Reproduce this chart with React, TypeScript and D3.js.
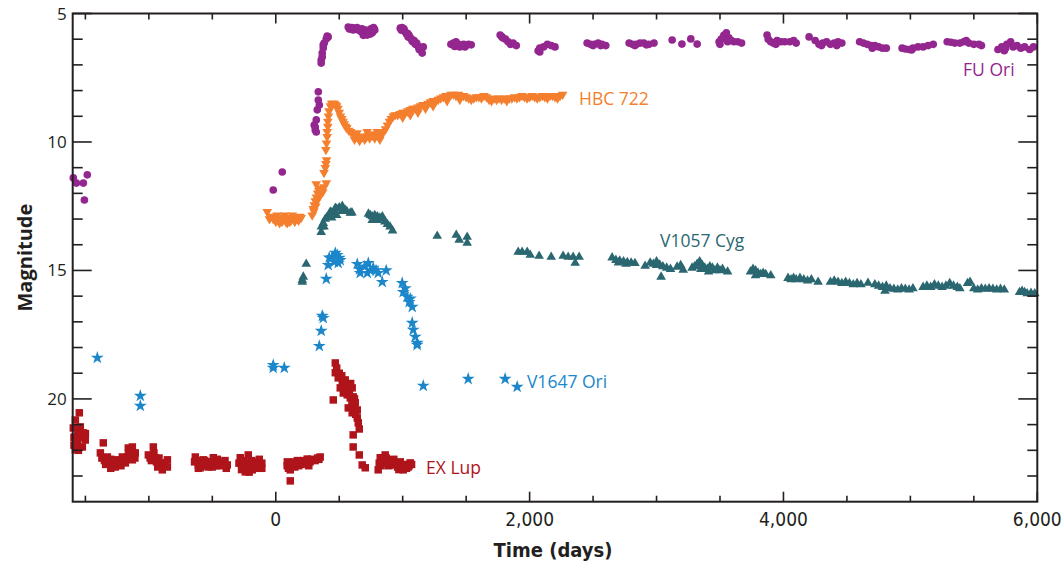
import React from "react";
import * as d3 from "d3";

// ---------- DATA: [time (days), magnitude] ----------
const fuOri: [number, number][] = [
  [-1595, 11.4], [-1571, 11.6], [-1516, 11.6], [-1485, 11.28], [-1508, 12.26], [-20, 11.87], [51, 11.17],
  [303, 9.34], [311, 9.53], [319, 9.61], [311, 9.42], [319, 9.14], [327, 8.75], [343, 8.56], [335, 8.37], [335, 8.05],
  [358, 6.93], [358, 6.81], [366, 6.69], [366, 6.54], [374, 6.34], [374, 6.22], [382, 6.15], [398, 5.99], [405, 5.88], [413, 5.91],
  [571, 5.53], [580, 5.6], [590, 5.6], [600, 5.55], [610, 5.64], [620, 5.58], [630, 5.6], [640, 5.55], [650, 5.64], [660, 5.62],
  [670, 5.7], [680, 5.6], [690, 5.85], [690, 5.7], [700, 5.76], [710, 5.65], [715, 5.75], [720, 5.84], [735, 5.7], [740, 5.68],
  [745, 5.8], [750, 5.6], [760, 5.75], [765, 5.7], [770, 5.55], [775, 5.6], [780, 5.64],
  [981, 5.57], [990, 5.65], [1000, 5.6], [1010, 5.6], [1020, 5.72], [1030, 5.8], [1043, 5.91], [1050, 5.85], [1060, 5.95],
  [1070, 6.0], [1083, 6.11], [1090, 6.05], [1100, 6.2], [1114, 6.23], [1125, 6.3], [1138, 6.42], [1145, 6.35], [1154, 6.54], [1162, 6.3],
  [995, 5.55], [1015, 5.68], [1040, 5.78], [1075, 6.08], [1110, 6.15], [1130, 6.4],
  [1380, 6.2], [1400, 6.15], [1410, 6.28], [1420, 6.1], [1440, 6.2], [1450, 6.3], [1460, 6.25], [1480, 6.2], [1490, 6.3], [1500, 6.25], [1520, 6.2], [1540, 6.22],
  [1768, 5.84], [1780, 5.9], [1790, 5.95], [1810, 6.0], [1830, 6.1], [1850, 6.2], [1870, 6.15], [1895, 6.25],
  [2067, 6.45], [2080, 6.35], [2080, 6.5], [2110, 6.3], [2140, 6.2], [2170, 6.25], [2200, 6.3],
  [2453, 6.15], [2480, 6.2], [2500, 6.25], [2510, 6.2], [2540, 6.15], [2560, 6.25], [2570, 6.2], [2600, 6.25],
  [2784, 6.15], [2810, 6.2], [2830, 6.25], [2840, 6.2], [2870, 6.15], [2900, 6.15], [2920, 6.22], [2940, 6.2], [2980, 6.15],
  [3123, 6.03], [3200, 6.19], [3270, 5.99], [3320, 6.19],
  [3493, 6.1], [3500, 6.2], [3510, 6.0], [3530, 5.85], [3550, 5.75], [3560, 6.1], [3570, 5.95], [3590, 6.05], [3610, 6.1], [3640, 6.1], [3670, 6.15],
  [3871, 5.84], [3880, 6.0], [3900, 6.1], [3920, 6.15], [3940, 6.2], [3950, 6.05], [3980, 6.1], [4010, 6.1], [4050, 6.1], [4080, 6.05], [4100, 6.15],
  [4202, 5.91], [4250, 6.05], [4280, 6.2], [4300, 6.25], [4310, 6.15], [4340, 6.1], [4370, 6.2], [4400, 6.15], [4420, 6.25], [4430, 6.1], [4460, 6.15],
  [4600, 6.1], [4630, 6.15], [4660, 6.2], [4690, 6.25], [4700, 6.35], [4720, 6.25], [4750, 6.3], [4780, 6.35], [4810, 6.35],
  [4935, 6.35], [4960, 6.38], [4990, 6.4], [5010, 6.42], [5020, 6.35], [5060, 6.3], [5100, 6.3], [5140, 6.25], [5180, 6.2],
  [5290, 6.1], [5320, 6.12], [5350, 6.15], [5390, 6.15], [5420, 6.1], [5440, 6.05], [5460, 6.15], [5500, 6.2], [5540, 6.2], [5560, 6.25],
  [5690, 6.4], [5720, 6.3], [5740, 6.45], [5750, 6.35], [5760, 6.2], [5790, 6.1], [5810, 6.3], [5840, 6.25], [5870, 6.35], [5900, 6.3], [5940, 6.4], [5970, 6.3],
];

const hbc722: [number, number][] = [
  [-67, 12.72], [-50, 13.0], [-40, 12.9], [-20, 13.0], [-10, 12.95], [0, 13.1], [10, 12.85], [20, 13.05], [30, 13.15], [40, 12.95],
  [50, 13.1], [60, 13.0], [70, 12.85], [80, 13.1], [90, 13.15], [100, 12.95], [110, 13.1], [120, 13.05], [130, 12.85], [140, 13.0],
  [150, 13.1], [160, 12.95], [170, 13.0], [180, 13.05], [190, 12.9], [200, 12.95],
  [287, 12.85], [295, 12.6], [300, 12.7], [303, 12.45], [311, 12.3], [315, 12.5], [320, 12.15], [325, 12.3], [330, 12.0], [335, 12.2],
  [340, 11.9], [345, 12.1], [350, 11.85], [355, 12.0], [360, 11.8], [370, 11.95], [380, 11.75], [319, 11.64], [398, 11.6],
  [380, 11.2], [390, 11.0], [395, 10.85], [400, 10.7], [395, 10.3], [400, 10.05], [405, 9.8], [405, 9.6], [410, 9.4], [410, 9.2],
  [415, 9.0], [420, 8.8], [430, 8.6], [440, 8.5], [450, 8.5], [460, 8.5], [470, 8.55], [480, 8.6],
  [490, 8.7], [500, 8.85], [510, 9.0], [520, 9.1], [530, 9.2], [540, 9.3], [550, 9.4], [560, 9.45], [575, 9.55], [590, 9.6],
  [610, 9.7], [620, 9.9], [625, 9.75], [640, 9.8], [640, 9.65], [655, 9.8], [660, 9.95], [670, 9.85], [685, 9.8], [700, 9.78], [700, 9.9],
  [715, 9.8], [720, 9.6], [730, 9.75], [740, 9.85], [745, 9.7], [760, 9.75], [775, 9.72], [780, 9.85], [790, 9.7], [800, 9.6], [805, 9.75],
  [820, 9.8], [820, 9.9], [835, 9.7], [850, 9.6],
  [865, 9.5], [880, 9.35], [895, 9.2], [910, 9.1], [925, 9.0], [940, 8.95],
  [960, 8.95], [980, 8.9], [1000, 8.85], [1020, 8.85], [1040, 8.8], [1060, 8.75], [1080, 8.7], [1100, 8.7], [1120, 8.65], [1140, 8.6],
  [1160, 8.55], [1180, 8.55], [1200, 8.5], [1220, 8.45], [1240, 8.4], [1260, 8.4], [1280, 8.35],
  [1000, 9.05], [1060, 8.95], [1120, 8.85], [1180, 8.7], [1240, 8.6],
  [1300, 8.3], [1320, 8.25], [1340, 8.2], [1360, 8.2], [1380, 8.15], [1400, 8.15], [1420, 8.2], [1440, 8.15], [1460, 8.2], [1480, 8.2],
  [1500, 8.25], [1520, 8.3], [1540, 8.35], [1350, 8.4], [1450, 8.35],
  [1560, 8.3], [1580, 8.25], [1600, 8.25], [1620, 8.3], [1640, 8.2], [1660, 8.25], [1680, 8.35], [1700, 8.4], [1720, 8.3], [1740, 8.35],
  [1760, 8.3], [1780, 8.35], [1800, 8.3], [1820, 8.4],
  [1840, 8.3], [1860, 8.3], [1880, 8.25], [1900, 8.3], [1920, 8.25], [1940, 8.2], [1960, 8.25], [1980, 8.3], [2000, 8.25], [2020, 8.2],
  [2040, 8.25], [2060, 8.3], [2080, 8.25], [2100, 8.2], [2120, 8.25], [2140, 8.3], [2160, 8.2], [2180, 8.2], [2200, 8.25], [2220, 8.3],
  [2240, 8.2], [2260, 8.15],
];

const v1057Cyg: [number, number][] = [
  [209, 15.45], [209, 15.37], [217, 15.25], [240, 14.75],
  [358, 13.51], [360, 13.3], [374, 13.16], [380, 13.3], [390, 13.0], [405, 12.92], [420, 12.85], [429, 12.72], [440, 12.75], [440, 12.95],
  [460, 12.7], [469, 12.57], [480, 12.6], [480, 12.85], [500, 12.55], [520, 12.7], [524, 12.49], [547, 12.65], [560, 12.7], [587, 12.76], [600, 12.75],
  [730, 12.8], [745, 12.85], [760, 12.9], [760, 13.05], [780, 12.85], [800, 12.9], [800, 13.05], [820, 12.95], [840, 13.0], [840, 12.9],
  [860, 13.1], [880, 13.2], [900, 13.3], [920, 13.45],
  [1272, 13.66], [1422, 13.62], [1445, 13.81], [1508, 13.7], [1508, 13.93],
  [1910, 14.28], [1941, 14.28], [1981, 14.28], [2005, 14.4], [2075, 14.44], [2170, 14.48], [2264, 14.44], [2304, 14.48], [2343, 14.48],
  [2359, 14.71], [2390, 14.48],
  [2650, 14.5], [2680, 14.6], [2700, 14.7], [2710, 14.62], [2740, 14.65], [2760, 14.75], [2770, 14.68], [2800, 14.7], [2830, 14.72],
  [2910, 14.83], [2950, 14.7], [2975, 14.75], [3000, 14.8], [3000, 14.65], [3025, 14.78], [3036, 15.25], [3050, 14.85], [3080, 14.9], [3110, 14.95],
  [3162, 14.86], [3190, 14.8], [3210, 14.98],
  [3280, 14.9], [3300, 14.85], [3320, 14.75], [3340, 14.65], [3350, 14.95], [3360, 14.8], [3380, 14.9], [3400, 14.95], [3410, 15.05],
  [3420, 14.85], [3440, 14.9], [3460, 15.0], [3480, 14.9], [3500, 15.0], [3520, 14.95], [3560, 15.05],
  [3740, 15.05], [3760, 14.95], [3780, 15.0], [3780, 15.2], [3800, 15.1], [3820, 15.15], [3840, 15.1], [3860, 15.15], [3900, 15.2],
  [4036, 15.3], [4060, 15.35], [4080, 15.3], [4100, 15.35], [4130, 15.3], [4160, 15.35], [4190, 15.4], [4220, 15.35], [4273, 15.45],
  [4370, 15.45], [4400, 15.4], [4430, 15.45], [4460, 15.5], [4490, 15.45], [4520, 15.5], [4550, 15.55], [4580, 15.5], [4610, 15.55], [4666, 15.49],
  [4720, 15.55], [4750, 15.6], [4780, 15.65], [4800, 15.8], [4810, 15.6], [4840, 15.7], [4870, 15.72], [4900, 15.75], [4930, 15.7],
  [4960, 15.72], [4990, 15.75], [5020, 15.7],
  [5100, 15.65], [5130, 15.6], [5160, 15.65], [5190, 15.55], [5220, 15.6], [5250, 15.65], [5280, 15.6], [5310, 15.5], [5340, 15.6],
  [5370, 15.65], [5390, 15.7],
  [5450, 15.5], [5470, 15.45], [5500, 15.7], [5530, 15.75], [5560, 15.7], [5590, 15.72], [5620, 15.7], [5650, 15.72], [5680, 15.75],
  [5710, 15.72], [5740, 15.75],
  [5860, 15.85], [5880, 15.8], [5900, 15.85], [5920, 15.9], [5950, 15.88], [5980, 15.9],
];

const v1647Ori: [number, number][] = [
  [-1406, 18.4], [-1067, 19.88], [-1067, 20.27], [-20, 18.68], [-20, 18.79], [67, 18.79],
  [343, 17.94], [358, 17.35], [366, 16.77], [374, 16.85], [398, 15.33], [413, 14.79],
  [421, 14.5], [445, 14.48], [461, 14.67], [469, 14.32], [484, 14.4], [492, 14.71], [500, 14.51], [508, 14.6],
  [642, 14.75], [665, 15.1], [721, 15.1], [729, 14.71], [768, 14.9], [807, 15.1], [839, 15.45], [870, 15.0],
  [660, 14.95], [700, 14.85], [745, 15.0], [790, 15.0],
  [996, 15.49], [1004, 15.84], [1020, 15.7], [1035, 16.03], [1051, 16.23], [1060, 16.1], [1075, 16.42],
  [1075, 17.04], [1083, 17.31], [1099, 17.58], [1114, 17.82], [1114, 17.9],
  [1162, 19.49], [1516, 19.22], [1807, 19.22], [1902, 19.53],
];

const exLup: [number, number][] = [
  [-1548, 20.54], [-1579, 20.82], [-1540, 21.09], [-1595, 21.13], [-1516, 21.32], [-1579, 21.48], [-1501, 21.6], [-1563, 21.71],
  [-1579, 21.98], [-1524, 21.87], [-1590, 21.5], [-1560, 21.3], [-1530, 21.5], [-1500, 21.35], [-1555, 22.0], [-1590, 21.8],
  [-1359, 21.71], [-1382, 22.1], [-1370, 22.3], [-1350, 22.4], [-1340, 22.55], [-1327, 22.26], [-1320, 22.5], [-1300, 22.35],
  [-1300, 22.7], [-1288, 22.57], [-1280, 22.45], [-1264, 22.65], [-1260, 22.5], [-1248, 22.37], [-1240, 22.55], [-1230, 22.45],
  [-1220, 22.6], [-1209, 22.26], [-1200, 22.4], [-1185, 22.49], [-1180, 22.3], [-1170, 22.26], [-1162, 21.91], [-1160, 22.1],
  [-1150, 22.2], [-1140, 22.05], [-1130, 21.87], [-1130, 22.37], [-1120, 22.2], [-1110, 22.3], [-1107, 22.1],
  [-1004, 22.18], [-990, 22.3], [-980, 22.4], [-965, 21.87], [-960, 22.1], [-949, 22.29], [-940, 22.45], [-930, 22.65], [-920, 22.3],
  [-910, 22.49], [-900, 22.6], [-894, 22.76], [-880, 22.5], [-870, 22.6], [-854, 22.37], [-854, 22.65],
  [-640, 22.45], [-634, 22.26], [-620, 22.4], [-610, 22.57], [-610, 22.7], [-600, 22.5], [-595, 22.68], [-580, 22.6], [-571, 22.37],
  [-560, 22.4], [-550, 22.5], [-540, 22.45], [-532, 22.65], [-520, 22.5], [-500, 22.45], [-500, 22.65], [-492, 22.29], [-480, 22.4],
  [-470, 22.6], [-460, 22.35], [-453, 22.49], [-440, 22.6], [-420, 22.55], [-414, 22.45], [-400, 22.4], [-390, 22.7], [-382, 22.57],
  [-290, 22.5], [-280, 22.29], [-270, 22.45], [-270, 22.75], [-256, 22.65], [-250, 22.4], [-240, 22.84], [-230, 22.55], [-217, 22.18],
  [-210, 22.7], [-210, 22.85], [-200, 22.5], [-190, 22.4], [-185, 22.76], [-170, 22.5], [-160, 22.7], [-150, 22.6], [-146, 22.45],
  [-130, 22.35], [-122, 22.57], [-110, 22.5], [-110, 22.7],
  [90, 22.6], [91, 22.45], [100, 22.7], [114, 22.76], [114, 23.19], [120, 22.5], [138, 22.57], [140, 22.45], [150, 22.65], [160, 22.5],
  [170, 22.4], [180, 22.6], [193, 22.45], [200, 22.55], [220, 22.4], [230, 22.5], [248, 22.34], [250, 22.5], [260, 22.6], [270, 22.45],
  [280, 22.35], [295, 22.37], [310, 22.4], [330, 22.3], [340, 22.35], [350, 22.26],
  [469, 18.6], [469, 18.98], [480, 18.8], [492, 19.18], [500, 19.0], [508, 19.57], [520, 19.1], [524, 19.38], [532, 19.77], [540, 19.5],
  [547, 19.26], [555, 19.6], [563, 19.84], [571, 19.45], [580, 19.7], [587, 19.96], [590, 19.4], [602, 19.57], [610, 19.92], [620, 20.0],
  [626, 20.15], [571, 20.35], [600, 20.2], [602, 20.54], [620, 20.35], [630, 20.6], [642, 20.43], [642, 20.74], [650, 20.93],
  [453, 20.04], [610, 21.4], [658, 21.17], [610, 21.87], [658, 22.18], [681, 22.57], [705, 22.68],
  [807, 22.76], [815, 22.5], [823, 22.29], [830, 22.6], [840, 22.4], [850, 22.35], [862, 22.18], [870, 22.3], [880, 22.5], [890, 22.6],
  [902, 22.37], [910, 22.55], [920, 22.45], [930, 22.35], [941, 22.57], [950, 22.5], [960, 22.65], [970, 22.75], [981, 22.45],
  [990, 22.6], [1004, 22.76], [1010, 22.55], [1020, 22.6], [1030, 22.7], [1043, 22.65], [1050, 22.6], [1059, 22.49], [1070, 22.55],
];

const xMajorTicks = [0, 2000, 4000, 6000];
const xMinorTicks = [-1500, -1000, -500, 500, 1000, 1500, 2500, 3000, 3500, 4500, 5000, 5500];
const yMajorTicks = [5, 10, 15, 20];
const yMinorTicks = [6, 7, 8, 9, 11, 12, 13, 14, 16, 17, 18, 19, 21, 22, 23];

const seriesLabels = [
  { name: "FU Ori", t: 5415, m: 7.43, color: "#93278F" },
  { name: "HBC 722", t: 2389, m: 8.56, color: "#F47F2E" },
  { name: "V1057 Cyg", t: 3027, m: 14.09, color: "#2A6770" },
  { name: "V1647 Ori", t: 1979, m: 19.58, color: "#1B87CA" },
  { name: "EX Lup", t: 1184, m: 22.93, color: "#B0141B" },
];

// ---------- CHART ----------
const W = 1064;
const H = 561;
const x = d3.scaleLinear().domain([-1600, 6000]).range([72.7, 1037.3]);
const y = d3.scaleLinear().domain([5, 24]).range([13.5, 501.7]);

const AXIS = "#231F20";
const FONT = "'Open Sans', 'Noto Sans', sans-serif";
const COND = "'Liberation Sans Narrow', 'DejaVu Sans Condensed', 'Open Sans', sans-serif";

const circlePath = d3.symbol().type(d3.symbolCircle).size(46)() as string;
const squarePath = d3.symbol().type(d3.symbolSquare).size(56)() as string;
const triPath = d3.symbol().type(d3.symbolTriangle).size(40)() as string;
const starPath = d3.symbol().type(d3.symbolStar).size(52)() as string;

function Marks({ data, path, color, rotate = 0 }: { data: [number, number][]; path: string; color: string; rotate?: number }) {
  return (
    <g fill={color}>
      {data.map(([t, m], i) => (
        <path key={i} d={path} transform={`translate(${x(t)},${y(m)})${rotate ? ` rotate(${rotate})` : ""}`} />
      ))}
    </g>
  );
}

export default function App() {
  const [x0, x1] = x.range();
  const [y0, y1] = y.range();
  return (
    <svg width={W} height={H} style={{ position: "absolute", left: 0, top: 0, background: "#fff" }}>
      <Marks data={fuOri} path={circlePath} color="#93278F" />
      <Marks data={hbc722} path={triPath} color="#F47F2E" rotate={180} />
      <Marks data={v1057Cyg} path={triPath} color="#2A6770" />
      <Marks data={v1647Ori} path={starPath} color="#1B87CA" />
      <Marks data={exLup} path={squarePath} color="#B0141B" />

      {/* frame */}
      <rect x={x0} y={y0} width={x1 - x0} height={y1 - y0} fill="none" stroke={AXIS} strokeWidth={2} />

      {/* ticks */}
      <g stroke={AXIS} strokeWidth={1.6}>
        {xMajorTicks.map((t) => (
          <g key={"xM" + t}>
            <line x1={x(t)} x2={x(t)} y1={y1} y2={y1 - 10} />
            <line x1={x(t)} x2={x(t)} y1={y0} y2={y0 + 10} />
          </g>
        ))}
        {xMinorTicks.map((t) => (
          <g key={"xm" + t}>
            <line x1={x(t)} x2={x(t)} y1={y1} y2={y1 - 6} />
            <line x1={x(t)} x2={x(t)} y1={y0} y2={y0 + 6} />
          </g>
        ))}
        {yMajorTicks.map((m) => (
          <g key={"yM" + m}>
            <line x1={x0} x2={x0 + 19} y1={y(m)} y2={y(m)} />
            <line x1={x1} x2={x1 - 19} y1={y(m)} y2={y(m)} />
          </g>
        ))}
        {yMinorTicks.map((m) => (
          <g key={"ym" + m}>
            <line x1={x0} x2={x0 + 10} y1={y(m)} y2={y(m)} />
            <line x1={x1} x2={x1 - 10} y1={y(m)} y2={y(m)} />
          </g>
        ))}
      </g>

      {/* tick labels */}
      <g fill={AXIS} fontFamily={COND} fontSize={19} textAnchor="middle">
        {xMajorTicks.map((t) => (
          <text key={"xl" + t} x={x(t)} y={y1 + 24}>
            {d3.format(",")(t)}
          </text>
        ))}
      </g>
      <g fill={AXIS} fontFamily={FONT} fontSize={17} textAnchor="end">
        {yMajorTicks.map((m) => (
          <text key={"yl" + m} x={x0 - 6} y={y(m) + 6}>
            {m}
          </text>
        ))}
      </g>

      {/* axis titles */}
      <text x={553} y={557} textAnchor="middle" fontFamily={COND} fontWeight="bold" fontSize={20} fill={AXIS}>
        Time (days)
      </text>
      <text
        transform={`translate(32,${(y0 + y1) / 2}) rotate(-90)`}
        textAnchor="middle"
        fontFamily={FONT}
        fontWeight="bold"
        fontSize={20}
        fill={AXIS}
      >
        Magnitude
      </text>

      {/* series labels */}
      <g fontFamily={FONT} fontSize={17.5}>
        {seriesLabels.map((s) => (
          <text key={s.name} x={x(s.t)} y={y(s.m)} fill={s.color}>
            {s.name}
          </text>
        ))}
      </g>
    </svg>
  );
}
